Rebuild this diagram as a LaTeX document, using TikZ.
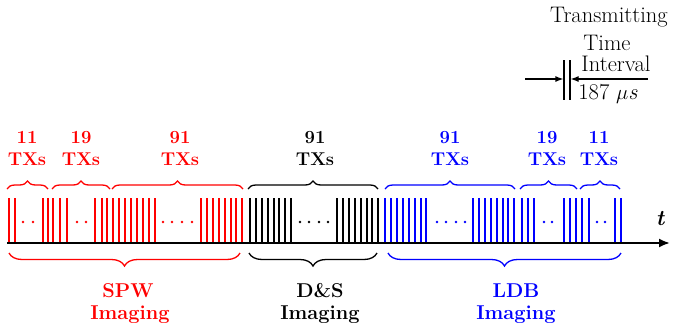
\documentclass[tikz,border=0pt]{standalone}
\usepackage{fontspec}
\usetikzlibrary{decorations.pathreplacing,arrows.meta}
\begin{document}
\begin{tikzpicture}[x=1pt,y=-1pt,
  pulse/.style={line width=2pt},
  dotm/.style={fill,circle,inner sep=0pt,minimum size=2.6pt},
  topbrace/.style={decorate,decoration={brace,amplitude=8pt},line width=1.3pt},
  botbrace/.style={decorate,decoration={brace,amplitude=13pt,mirror},line width=1.3pt},
  lbl/.style={font=\fontsize{18.5}{20}\selectfont\bfseries,anchor=base,inner sep=0pt},
  blbl/.style={font=\fontsize{20}{22}\selectfont\bfseries,anchor=base,inner sep=0pt},
  ann/.style={font=\fontsize{22.5}{24}\selectfont,anchor=base,inner sep=0pt},
  tiv/.style={line width=1.2pt,-{Latex[length=8pt,width=6pt]}},
]
\useasboundingbox (0,0) rectangle (673,322);

% ---------- pulses ----------
\begin{scope}[red]
  \foreach \x in {9,15,43,48, 53,60,67,95,101.5,107.3,
                  113.3,119.2,125.1,131,136.9,142.8,148.7,154.6,
                  201,206.9,212.8,218.7,224.6,230.5,236.4,242.3}
    \draw[pulse] (\x,198) -- (\x,243);
  \foreach \x in {23,33,77,86,163,172,182,192}
    \node[dotm] at (\x,222) {};
\end{scope}
\begin{scope}[black]
  \foreach \x in {250,256,262,267.8,273.6,279.4,285.2,291,
                  337,342.9,348.8,354.7,360.6,366.5,372.4,378.3}
    \draw[pulse] (\x,198) -- (\x,243);
  \foreach \x in {300,309,319,328}
    \node[dotm] at (\x,222) {};
\end{scope}
\begin{scope}[blue]
  \foreach \x in {385,391,396.9,402.8,408.7,414.6,420.5,426.4,
                  473,478.9,484.8,490.7,496.6,502.5,508.4,514.3,
                  522,528,534, 564,570,576, 582,589,615,621}
    \draw[pulse] (\x,198) -- (\x,243);
  \foreach \x in {437,446,456,465,544,552,597,605}
    \node[dotm] at (\x,222) {};
\end{scope}

% ---------- time axis ----------
\coordinate (ax0) at (7,243);
\coordinate (ax1) at (670,243);
\draw[line width=2pt,-{Latex[length=11pt,width=9pt]}] (ax0) -- (ax1);
\node[font=\fontsize{22}{22}\selectfont\bfseries\itshape,anchor=base,inner sep=0pt] (tlab) at (660,225) {t};

% ---------- top braces & labels ----------
\draw[topbrace,red] (7,189) -- (48,189);
\draw[topbrace,red] (52,189) -- (110,189);
\draw[topbrace,red] (112,189) -- (243,189);
\draw[topbrace,black] (248,189) -- (378,189);
\draw[topbrace,blue] (385,189) -- (515,189);
\draw[topbrace,blue] (520,189) -- (577,189);
\draw[topbrace,blue] (580,189) -- (620,189);

\node[lbl,red] (n1a) at (27,143) {11};
\node[lbl,red] (n1b) at (27,165) {TXs};
\node[lbl,red] (n2a) at (81,143) {19};
\node[lbl,red] (n2b) at (81,165) {TXs};
\node[lbl,red] (n3a) at (180,143) {91};
\node[lbl,red] (n3b) at (180,165) {TXs};
\node[lbl,black] (n4a) at (315,143) {91};
\node[lbl,black] (n4b) at (315,165) {TXs};
\node[lbl,blue] (n5a) at (450,143) {91};
\node[lbl,blue] (n5b) at (450,165) {TXs};
\node[lbl,blue] (n6a) at (547,143) {19};
\node[lbl,blue] (n6b) at (547,165) {TXs};
\node[lbl,blue] (n7a) at (599,143) {11};
\node[lbl,blue] (n7b) at (599,165) {TXs};

% ---------- bottom braces & labels ----------
\draw[botbrace,red] (9,253) -- (240,253);
\draw[botbrace,black] (249,253) -- (377,253);
\draw[botbrace,blue] (388,253) -- (621,253);

\node[blbl,red] (s1) at (128,297) {SPW};
\node[blbl,red] (s2) at (130,319) {Imaging};
\node[blbl,black] (d1) at (320,297) {D\&S};
\node[blbl,black] (d2) at (320,319) {Imaging};
\node[blbl,blue] (l1) at (516,297) {LDB};
\node[blbl,blue] (l2) at (516,319) {Imaging};

% ---------- transmitting time interval ----------
\node[ann] (tr1) at (609,22) {Transmitting};
\node[ann] (tr2) at (607,50) {Time};
\node[ann] (tr3) at (616,71) {Interval};
\node[ann] (tr4) at (608,99) {187 $\mu$\textit{s}};
\coordinate (v1t) at (564,60);
\coordinate (v1b) at (564,100);
\coordinate (v2t) at (570,60);
\coordinate (v2b) at (570,100);
\draw[line width=1.2pt] (v1t) -- (v1b);
\draw[line width=1.2pt] (v2t) -- (v2b);
\coordinate (la) at (525,79);
\coordinate (lb) at (563.4,79);
\coordinate (ra) at (648,79);
\coordinate (rb) at (570.6,79);
\draw[tiv] (la) -- (lb);
\draw[tiv] (ra) -- (rb);
\end{tikzpicture}
\end{document}
